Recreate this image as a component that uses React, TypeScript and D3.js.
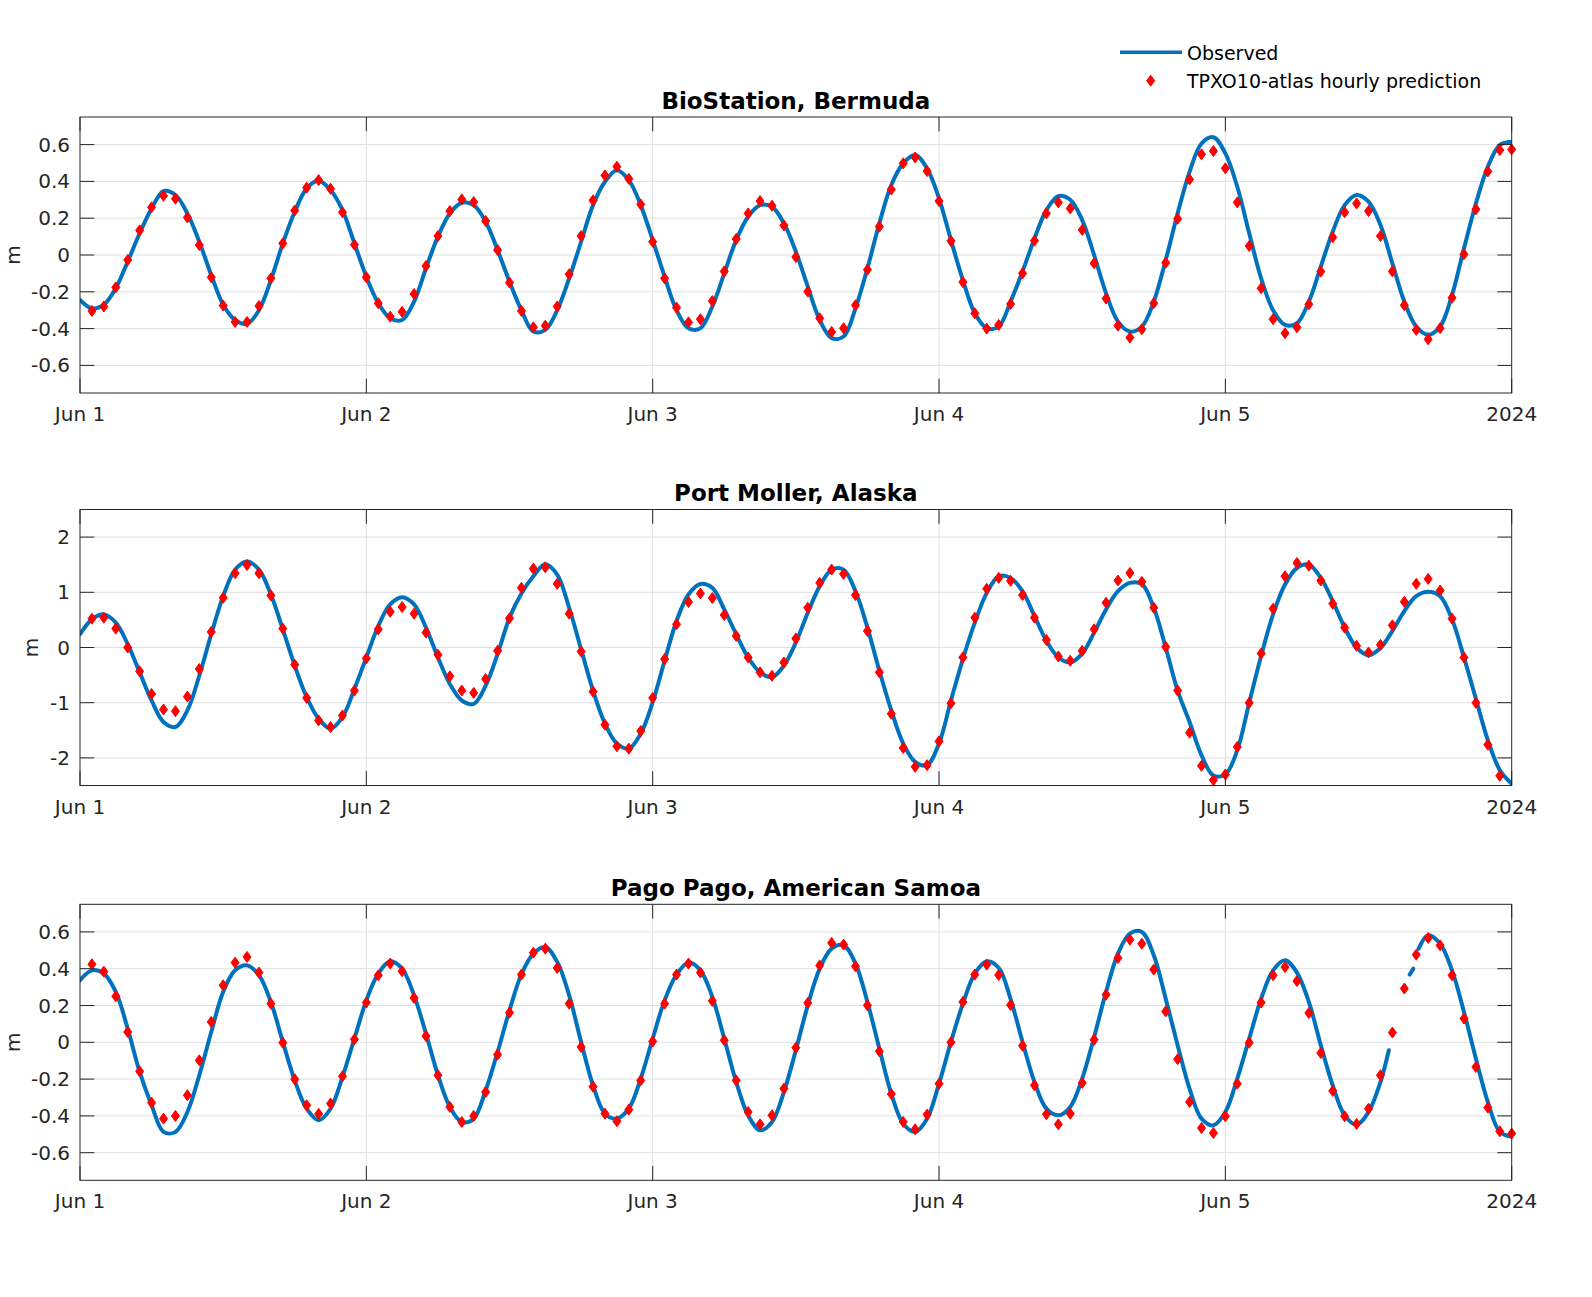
import * as d3 from "d3";

// hourly TPXO10 predictions, hours 1..120 after Jun 1 00:00 UTC
const bermudaPred = [
  -0.304, -0.28, -0.176, -0.027, 0.134, 0.259, 0.322, 0.306, 0.204, 0.054,
  -0.121, -0.275, -0.364, -0.364, -0.277, -0.127, 0.063, 0.242, 0.366, 0.407,
  0.36, 0.232, 0.056, -0.121, -0.262, -0.335, -0.309, -0.212, -0.06, 0.103,
  0.239, 0.302, 0.288, 0.185, 0.027, -0.15, -0.304, -0.393, -0.384, -0.28,
  -0.105, 0.103, 0.297, 0.432, 0.48, 0.414, 0.275, 0.072, -0.127, -0.286,
  -0.366, -0.349, -0.25, -0.089, 0.087, 0.226, 0.293, 0.268, 0.161, -0.011,
  -0.199, -0.344, -0.418, -0.398, -0.273, -0.08, 0.154, 0.356, 0.498, 0.53,
  0.456, 0.293, 0.076, -0.147, -0.317, -0.4, -0.38, -0.266, -0.1, 0.078,
  0.226, 0.286, 0.253, 0.136, -0.045, -0.237, -0.384, -0.449, -0.404, -0.262,
  -0.042, 0.197, 0.411, 0.547, 0.565, 0.471, 0.286, 0.049, -0.181, -0.349,
  -0.425, -0.393, -0.268, -0.09, 0.096, 0.232, 0.28, 0.239, 0.103, -0.089,
  -0.273, -0.407, -0.458, -0.398, -0.232, 0.004, 0.248, 0.454, 0.57, 0.574,
];

const mollerPred = [
  0.523, 0.54, 0.342, 0, -0.432, -0.841, -1.123, -1.153, -0.889, -0.39,
  0.282, 0.9, 1.345, 1.495, 1.345, 0.943, 0.342, -0.312, -0.913, -1.321,
  -1.441, -1.231, -0.781, -0.198, 0.33, 0.649, 0.733, 0.613, 0.27, -0.132,
  -0.523, -0.781, -0.823, -0.571, -0.06, 0.529, 1.081, 1.429, 1.453, 1.153,
  0.613, -0.072, -0.799, -1.399, -1.79, -1.832, -1.514, -0.913, -0.21, 0.42,
  0.823, 0.979, 0.895, 0.589, 0.21, -0.18, -0.45, -0.511, -0.27, 0.162,
  0.721, 1.171, 1.411, 1.333, 0.949, 0.3, -0.45, -1.201, -1.82, -2.162,
  -2.132, -1.7, -1.009, -0.18, 0.541, 1.063, 1.261, 1.207, 0.949, 0.541,
  0.138, -0.162, -0.24, -0.06, 0.33, 0.811, 1.213, 1.351, 1.189, 0.721,
  0.012, -0.78, -1.544, -2.144, -2.402, -2.3, -1.802, -1.003, -0.108, 0.703,
  1.291, 1.532, 1.483, 1.213, 0.793, 0.36, 0.03, -0.09, 0.048, 0.402,
  0.829, 1.153, 1.243, 1.033, 0.523, -0.18, -1.003, -1.76, -2.324, -2.65,
];

const pagoPred = [
  0.424, 0.384, 0.25, 0.056, -0.158, -0.328, -0.415, -0.4, -0.288, -0.098,
  0.111, 0.31, 0.433, 0.464, 0.379, 0.21, -0.002, -0.201, -0.342, -0.389,
  -0.333, -0.185, 0.016, 0.216, 0.364, 0.428, 0.386, 0.241, 0.034, -0.179,
  -0.351, -0.433, -0.4, -0.27, -0.067, 0.161, 0.368, 0.487, 0.509, 0.404,
  0.21, -0.025, -0.241, -0.388, -0.429, -0.366, -0.207, 0.005, 0.21, 0.368,
  0.428, 0.379, 0.225, 0.011, -0.207, -0.379, -0.446, -0.397, -0.252, -0.029,
  0.214, 0.418, 0.54, 0.531, 0.413, 0.201, -0.049, -0.281, -0.433, -0.473,
  -0.393, -0.225, 0, 0.219, 0.368, 0.422, 0.366, 0.203, -0.019, -0.234,
  -0.391, -0.446, -0.388, -0.221, 0.014, 0.259, 0.458, 0.558, 0.536, 0.395,
  0.168, -0.092, -0.324, -0.466, -0.493, -0.402, -0.225, -0.002, 0.216, 0.364,
  0.409, 0.333, 0.159, -0.058, -0.264, -0.402, -0.444, -0.361, -0.179, 0.053,
  0.292, 0.476, 0.567, 0.527, 0.364, 0.129, -0.134, -0.355, -0.484, -0.496,
];

// observed water level, read hourly, hours 0..120 (null = missing record)
const bermudaObs = [
  -0.244, -0.29, -0.27, -0.18, -0.036, 0.118, 0.253, 0.347, 0.326, 0.226, 0.072,
  -0.109, -0.27, -0.353, -0.375, -0.3, -0.136, 0.063, 0.235, 0.362, 0.403,
  0.353, 0.244, 0.063, -0.118, -0.262, -0.344, -0.353, -0.253, -0.072, 0.1,
  0.226, 0.284, 0.271, 0.181, 0.027, -0.145, -0.3, -0.416, -0.407, -0.3,
  -0.127, 0.072, 0.271, 0.398, 0.461, 0.407, 0.271, 0.081, -0.118, -0.3,
  -0.398, -0.398, -0.28, -0.1, 0.081, 0.208, 0.271, 0.262, 0.172, 0.018,
  -0.172, -0.353, -0.452, -0.443, -0.29, -0.072, 0.172, 0.38, 0.498, 0.543,
  0.47, 0.308, 0.081, -0.136, -0.317, -0.398, -0.389, -0.253, -0.09, 0.09,
  0.244, 0.32, 0.3, 0.19, 0, -0.208, -0.362, -0.416, -0.389, -0.253,
  -0.027, 0.226, 0.452, 0.606, 0.64, 0.552, 0.371, 0.118, -0.127, -0.3,
  -0.38, -0.371, -0.253, -0.063, 0.127, 0.271, 0.326, 0.29, 0.163, -0.045,
  -0.253, -0.389, -0.434, -0.389, -0.217, 0.036, 0.28, 0.48, 0.597, 0.615,
];

const mollerObs = [
  0.24, 0.51, 0.6, 0.45, 0.06, -0.45, -0.96, -1.35, -1.44, -1.14, -0.51,
  0.24, 0.93, 1.41, 1.56, 1.41, 0.96, 0.33, -0.33, -0.9, -1.29,
  -1.47, -1.26, -0.75, -0.18, 0.39, 0.78, 0.91, 0.78, 0.36, -0.18,
  -0.66, -0.96, -1.02, -0.69, -0.12, 0.54, 0.98, 1.29, 1.51, 1.32,
  0.72, -0.03, -0.78, -1.38, -1.74, -1.83, -1.56, -0.99, -0.24, 0.48,
  0.96, 1.15, 1.08, 0.69, 0.24, -0.18, -0.45, -0.54, -0.33, 0.09,
  0.63, 1.11, 1.41, 1.41, 1.02, 0.36, -0.42, -1.14, -1.74, -2.07,
  -2.13, -1.74, -0.96, -0.21, 0.45, 0.99, 1.29, 1.26, 1.02, 0.57,
  0.12, -0.18, -0.27, -0.11, 0.27, 0.69, 1.02, 1.17, 1.15, 0.72,
  0, -0.78, -1.35, -1.95, -2.32, -2.3, -1.86, -1.0, -0.15, 0.6,
  1.14, 1.44, 1.5, 1.26, 0.84, 0.36, 0, -0.14, -0.01, 0.3,
  0.66, 0.93, 1.01, 0.93, 0.51, -0.18, -0.93, -1.68, -2.22, -2.47,
];

const pagoObs = [
  0.337, 0.391, 0.373, 0.274, 0.074, -0.161, -0.342, -0.487, -0.487, -0.379, -0.179,
  0.056, 0.274, 0.391, 0.418, 0.364, 0.219, 0.002, -0.207, -0.361, -0.424,
  -0.361, -0.188, 0.02, 0.228, 0.373, 0.44, 0.4, 0.255, 0.047, -0.179,
  -0.351, -0.433, -0.415, -0.261, -0.053, 0.174, 0.37, 0.482, 0.518, 0.437,
  0.255, 0.002, -0.234, -0.388, -0.415, -0.36, -0.197, 0.02, 0.228, 0.368,
  0.433, 0.391, 0.246, 0.02, -0.216, -0.397, -0.478, -0.433, -0.27, -0.043,
  0.201, 0.4, 0.509, 0.527, 0.428, 0.219, -0.034, -0.279, -0.442, -0.487,
  -0.415, -0.225, 0.002, 0.21, 0.373, 0.44, 0.405, 0.235, 0.002, -0.216,
  -0.361, -0.397, -0.351, -0.197, 0.029, 0.274, 0.482, 0.591, 0.6, 0.473,
  0.237, -0.016, -0.252, -0.415, -0.451, -0.379, -0.197, 0.02, 0.237, 0.391,
  0.446, 0.379, 0.219, -0.016, -0.234, -0.397, -0.447, -0.379, -0.216, null,
  null, null, 0.582, 0.536, 0.391, 0.165, -0.089, -0.324, -0.487, -0.514,
];

// Pago Pago record edges around the data gap
const pagoEdgeHours = [109.7, 111.45, 111.75, 112.2];
const pagoEdgeValues = [-0.043, 0.368, 0.4, 0.509];

const titles = [
  "BioStation, Bermuda",
  "Port Moller, Alaska",
  "Pago Pago, American Samoa",
];
const yDomains: [number, number][] = [
  [-0.75, 0.75],
  [-2.5, 2.5],
  [-0.75, 0.75],
];
const smallTicks = [-0.6, -0.4, -0.2, 0, 0.2, 0.4, 0.6];
const bigTicks = [-2, -1, 0, 1, 2];
const xTickLabels = ["Jun 1", "Jun 2", "Jun 3", "Jun 4", "Jun 5", "2024"];
const legendLabels = ["Observed", "TPXO10-atlas hourly prediction"];

const start = new Date(Date.UTC(2024, 5, 1));
const end = new Date(Date.UTC(2024, 5, 6));
const hourToDate = (h: number) => new Date(start.getTime() + h * 3600e3);

type Pt = [number, number | null];

function hourly(values: (number | null)[], first: number): Pt[] {
  return values.map((v, i) => [first + i, v]);
}

const obsSeries: Pt[][] = [
  hourly(bermudaObs, 0),
  hourly(mollerObs, 0),
  hourly(pagoObs, 0)
    .concat(pagoEdgeHours.map((h, i) => [h, pagoEdgeValues[i]] as Pt))
    .sort((a, b) => a[0] - b[0]),
];
const predSeries: Pt[][] = [
  hourly(bermudaPred, 1),
  hourly(mollerPred, 1),
  hourly(pagoPred, 1),
];
const yTickSets = [smallTicks, bigTicks, smallTicks];

const W = 1592;
const H = 1297;
const left = 80;
const right = 1511.7;
const panelTops = [117, 509.5, 904.3];
const panelH = 276;
const ylabelX = [13, 31, 13];
const tickLen = 14.3;
const font = "DejaVu Sans, sans-serif";
const axisColor = "#262626";
const gridColor = "#dfdfdf";
const blue = "#0072BD";
const diamond = "M0,-5.5L4,0L0,5.5L-4,0Z";

const x = d3.scaleUtc().domain([start, end]).range([left, right]);
const xTicks = d3.utcDay.range(start, d3.utcDay.offset(end, 1));

function Panel({ idx }: { idx: number }) {
  const top = panelTops[idx];
  const bottom = top + panelH;
  const [lo, hi] = yDomains[idx];
  const y = d3.scaleLinear().domain(yDomains[idx]).range([bottom, top]);
  const line = d3
    .line<Pt>()
    .defined((d) => d[1] != null)
    .x((d) => x(hourToDate(d[0])))
    .y((d) => y(d[1] as number))
    .curve(d3.curveCatmullRom.alpha(0.5));
  const clipId = `clip${idx}`;
  const preds = predSeries[idx].filter(
    (d) => d[1] != null && (d[1] as number) >= lo && (d[1] as number) <= hi
  );
  return (
    <g>
      <defs>
        <clipPath id={clipId}>
          <rect x={left} y={top} width={right - left} height={panelH} />
        </clipPath>
      </defs>
      {/* grid */}
      {yTickSets[idx].map((t) => (
        <line key={"gy" + t} x1={left} x2={right} y1={y(t)} y2={y(t)} stroke={gridColor} strokeWidth={1} />
      ))}
      {xTicks.slice(1, -1).map((t, i) => (
        <line key={"gx" + i} x1={x(t)} x2={x(t)} y1={top} y2={bottom} stroke={gridColor} strokeWidth={1} />
      ))}
      {/* data */}
      <g clipPath={`url(#${clipId})`}>
        <path
          d={line(obsSeries[idx]) || ""}
          fill="none"
          stroke={blue}
          strokeWidth={4}
          strokeLinejoin="round"
          strokeLinecap="round"
        />
      </g>
      {preds.map((d, i) => (
        <path
          key={"p" + i}
          d={diamond}
          transform={`translate(${x(hourToDate(d[0]))},${y(d[1] as number)})`}
          fill="#ff0000"
          stroke="#ff0000"
          strokeWidth={1}
          strokeLinejoin="round"
        />
      ))}
      {/* box + ticks */}
      <rect x={left} y={top} width={right - left} height={panelH} fill="none" stroke={axisColor} strokeWidth={1} />
      {yTickSets[idx].map((t) => (
        <g key={"ty" + t}>
          <line x1={left} x2={left + tickLen} y1={y(t)} y2={y(t)} stroke={axisColor} />
          <line x1={right - tickLen} x2={right} y1={y(t)} y2={y(t)} stroke={axisColor} />
          <text
            x={left - 10}
            y={y(t)}
            dy="0.35em"
            textAnchor="end"
            fontSize={20}
            fontFamily={font}
            fill={axisColor}
          >
            {t === 0 ? "0" : String(t)}
          </text>
        </g>
      ))}
      {xTicks.map((t, i) => (
        <g key={"tx" + i}>
          <line x1={x(t)} x2={x(t)} y1={bottom} y2={bottom - tickLen} stroke={axisColor} />
          <line x1={x(t)} x2={x(t)} y1={top} y2={top + tickLen} stroke={axisColor} />
          <text
            x={x(t)}
            y={bottom + 28}
            textAnchor="middle"
            fontSize={20}
            fontFamily={font}
            fill={axisColor}
          >
            {xTickLabels[i]}
          </text>
        </g>
      ))}
      <text
        transform={`translate(${ylabelX[idx]},${(top + bottom) / 2}) rotate(-90)`}
        dy="0.35em"
        textAnchor="middle"
        fontSize={20}
        fontFamily={font}
        fill={axisColor}
      >
        m
      </text>
      <text
        x={(left + right) / 2}
        y={top - 8.5}
        textAnchor="middle"
        fontSize={23}
        fontWeight="bold"
        fontFamily={font}
        fill="#000"
      >
        {titles[idx]}
      </text>
    </g>
  );
}

export default function App() {
  return (
    <svg
      width={W}
      height={H}
      style={{ position: "absolute", left: 0, top: 0, display: "block", background: "#fff" }}
    >
      <rect width={W} height={H} fill="#fff" />
      {titles.map((_, i) => (
        <Panel key={i} idx={i} />
      ))}
      <g>
        <line x1={1120} x2={1182} y1={52.3} y2={52.3} stroke={blue} strokeWidth={3.5} />
        <text x={1187} y={53} dy="0.35em" fontSize={19} fontFamily={font} fill="#000">
          {legendLabels[0]}
        </text>
        <path
          d={diamond}
          transform="translate(1150.7,80.7)"
          fill="#ff0000"
          stroke="#ff0000"
          strokeWidth={1}
          strokeLinejoin="round"
        />
        <text x={1187} y={81} dy="0.35em" fontSize={19} fontFamily={font} fill="#000">
          {legendLabels[1]}
        </text>
      </g>
    </svg>
  );
}
